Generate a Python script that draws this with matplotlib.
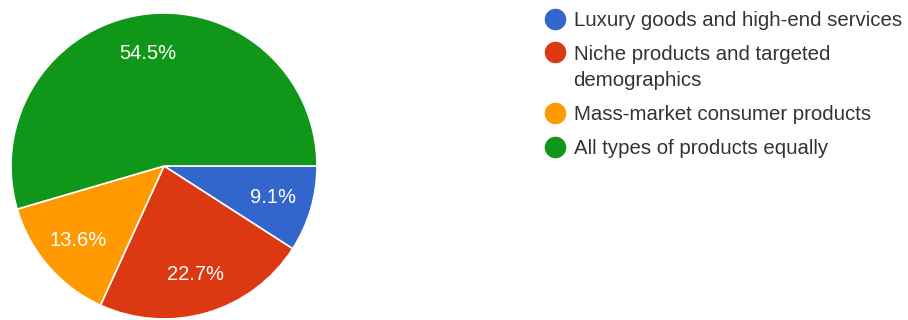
import matplotlib.pyplot as plt
from matplotlib.lines import Line2D
from matplotlib.legend_handler import HandlerLine2D

plt.rcParams['font.family'] = ['Liberation Sans', 'DejaVu Sans']

# answer categories and response counts (22 responses)
labels = ['Luxury goods and high-end services',
          'Niche products and targeted\ndemographics',
          'Mass-market consumer products',
          'All types of products equally']
counts = [2, 5, 3, 12]
colors = ['#3366cc', '#dc3912', '#ff9900', '#109618']


class ShiftedMarker(HandlerLine2D):
    # moves the legend dot up so it lines up with the first text line
    def __init__(self, dy, **kw):
        super().__init__(**kw)
        self.dy = dy

    def create_artists(self, legend, orig_handle, xdescent, ydescent,
                       width, height, fontsize, trans):
        arts = super().create_artists(legend, orig_handle, xdescent, ydescent,
                                      width, height, fontsize, trans)
        for a in arts:
            a.set_ydata([y + self.dy for y in a.get_ydata()])
        return arts


W, H = 908, 320
fig = plt.figure(figsize=(W / 100, H / 100), dpi=100)

# pie centre at (164, 166) px from top-left, radius 153 px
cx, cy, r = 164, 166, 153
ax = fig.add_axes([(cx - r) / W, (H - cy - r) / H, 2 * r / W, 2 * r / H])
wedges, texts, autotexts = ax.pie(
    counts, colors=colors, startangle=0, counterclock=False,
    autopct='%1.1f%%', pctdistance=0.74,
    wedgeprops=dict(edgecolor='white', linewidth=1.2),
    textprops=dict(color='white', fontsize=14.5))
ax.set_xlim(-1, 1)
ax.set_ylim(-1, 1)
ax.set_aspect('equal')
ax.axis('off')

handles = [Line2D([], [], linestyle='none', marker='o', markersize=14.5,
                  markerfacecolor=c, markeredgecolor=c) for c in colors]
leg = fig.legend(handles, labels, loc='upper left',
                 bbox_to_anchor=(545 / W, 1 - 11 / H),
                 frameon=False, fontsize=14.7, handlelength=1.0,
                 handletextpad=0.4, labelspacing=0.73, borderpad=0,
                 borderaxespad=0, labelcolor='#333333',
                 handler_map={handles[1]: ShiftedMarker(11.5)})
for t in leg.get_texts():
    t.set_linespacing(1.5)

fig.savefig('out.png', dpi=100)
